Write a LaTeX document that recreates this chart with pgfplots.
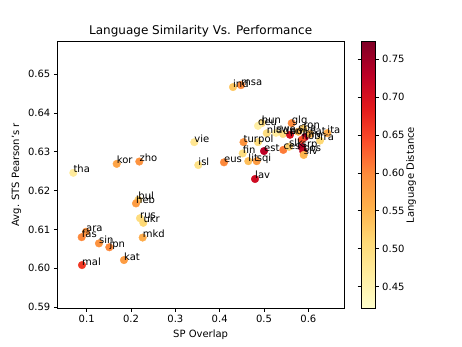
\documentclass[border=0pt]{standalone}
\usepackage{fontspec}
\setmainfont{DejaVu Sans}
\usepackage{pgfplots}
\pgfplotsset{compat=1.18}
\usepackage{pgfplotstable}
\pgfplotstableread{
x y d lab
0.0698 0.6246 0.47 tha
0.1677 0.6269 0.57 kor
0.2187 0.6275 0.59 zho
0.2164 0.6176 0.52 bul
0.2112 0.6167 0.58 heb
0.2202 0.6129 0.50 rus
0.2277 0.6117 0.51 ukr
0.0984 0.6094 0.59 ara
0.0887 0.6080 0.60 fas
0.1277 0.6064 0.59 sin
0.1510 0.6054 0.60 jpn
0.2263 0.6079 0.56 mkd
0.1841 0.6021 0.58 kat
0.0894 0.6008 0.66 mal
0.3427 0.6325 0.48 vie
0.3517 0.6266 0.49 isl
0.4097 0.6273 0.60 eus
0.4300 0.6467 0.53 ind
0.4481 0.6472 0.60 msa
0.4537 0.6325 0.59 tur
0.4864 0.6325 0.50 pol
0.4519 0.6296 0.50 fin
0.4645 0.6276 0.54 lit
0.4835 0.6276 0.58 sqi
0.4797 0.6230 0.71 lav
0.5000 0.6302 0.73 est
0.4948 0.6374 0.50 hun
0.4864 0.6367 0.46 deu
0.5061 0.6348 0.50 nld
0.5270 0.6349 0.47 swe
0.5428 0.6346 0.50 dan
0.5773 0.6352 0.55 spa
0.5624 0.6374 0.60 glg
0.5886 0.6360 0.52 ron
0.5586 0.6344 0.70 por
0.5924 0.6338 0.75 hrv
0.5850 0.6331 0.64 nob
0.6037 0.6346 0.55 cat
0.6427 0.6348 0.56 ita
0.6263 0.6329 0.51 fra
0.5435 0.6305 0.61 ces
0.5564 0.6313 0.52 slk
0.5850 0.6312 0.74 srp
0.5886 0.6301 0.72 bos
0.5895 0.6292 0.55 slv
}\data
\begin{document}
\begin{tikzpicture}
\useasboundingbox (-57.3bp,-39bp) rectangle (404.7bp,308bp);
\begin{axis}[
  at={(0,0)}, anchor=south west,
  scale only axis, width=286.7bp, height=266.3bp,
  xmin=0.0337, xmax=0.6804, ymin=0.58974, ymax=0.6584,
  xtick={0.1,0.2,0.3,0.4,0.5,0.6},
  ytick={0.59,0.60,0.61,0.62,0.63,0.64,0.65},
  xticklabel style={/pgf/number format/.cd,fixed,precision=1,zerofill},
  yticklabel style={/pgf/number format/.cd,fixed,precision=2,zerofill},
  /pgf/number format/assume math mode=true,
  scaled ticks=false,
  tick align=outside, major tick length=3.5bp,
  xtick pos=bottom, ytick pos=left,
  tick style={black, line width=0.8bp},
  axis line style={line width=0.8bp},
  ticklabel style={font=\fontsize{10bp}{12bp}\selectfont},
  label style={font=\fontsize{10bp}{12bp}\selectfont},
  xlabel={SP Overlap}, ylabel={Avg. STS Pearson's r},
  title={Language Similarity Vs. Performance},
  title style={font=\fontsize{12bp}{14bp}\selectfont, yshift=-5bp},
  colormap={ylorrd}{rgb255=(255,255,204) rgb255=(255,237,160) rgb255=(254,217,118) rgb255=(254,178,76) rgb255=(253,141,60) rgb255=(252,78,42) rgb255=(227,26,28) rgb255=(189,0,38) rgb255=(128,0,38)},
  point meta min=0.4215, point meta max=0.7732,
  colorbar,
  colorbar style={
    at={(parent axis.north east)}, anchor=north west, xshift=8.7bp,
    scale only axis, width=14bp, height=266.6bp,
    ytick={0.45,0.50,0.55,0.60,0.65,0.70,0.75},
    yticklabel style={/pgf/number format/.cd,fixed,precision=2,zerofill},
    /pgf/number format/assume math mode=true,
    tick align=outside, major tick length=3.5bp,
    tick style={black, line width=0.8bp},
    axis line style={line width=0.8bp},
    ticklabel style={font=\fontsize{10bp}{12bp}\selectfont},
    ylabel={Language Distance},
    label style={font=\fontsize{10bp}{12bp}\selectfont},
    ylabel style={at={(axis description cs:3.57,0.5)}, anchor=center},
  },
]
\addplot[scatter, only marks, mark=*, mark size=3.8bp,
  scatter/use mapped color={draw=mapped color, fill=mapped color},
  point meta=explicit,
] table[x=x, y=y, meta=d] {\data};
\addplot[only marks, mark=none,
  point meta=explicit symbolic,
  nodes near coords,
  nodes near coords style={anchor=base west, inner sep=0pt, text=black, font=\fontsize{10bp}{12bp}\selectfont},
] table[x=x, y=y, meta=lab] {\data};
\end{axis}
\end{tikzpicture}
\end{document}
